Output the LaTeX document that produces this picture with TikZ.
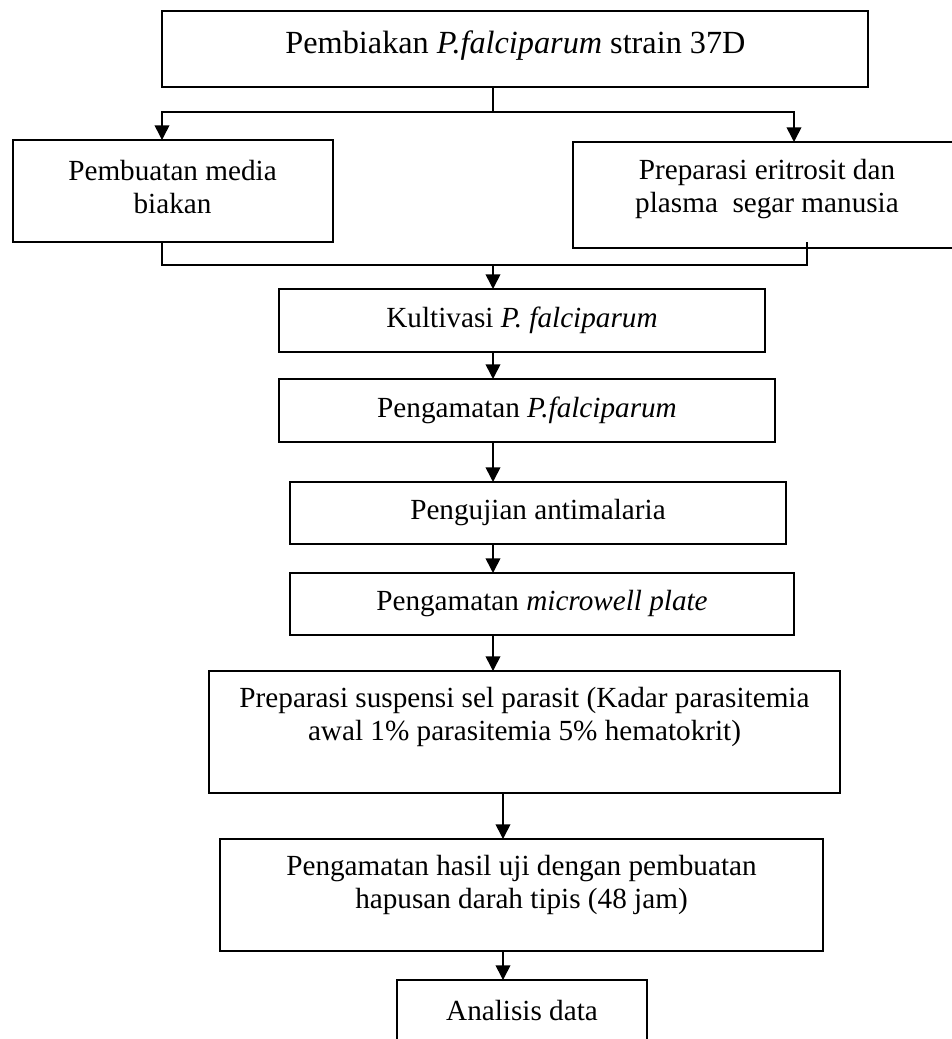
\documentclass[tikz,border=0pt]{standalone}
\usepackage{fontspec}
\setmainfont{Liberation Serif}
\usetikzlibrary{arrows.meta}
\tikzset{
  box/.style={draw, line width=1.6pt, inner sep=0pt, outer sep=0pt},
  txt/.style={align=center, inner sep=0pt, font=\fontsize{21.9}{24.75}\selectfont},
  bigtxt/.style={align=center, inner sep=0pt, font=\fontsize{24.2}{27}\selectfont},
  conn/.style={line width=1.2pt},
  arr/.style={conn, -{Triangle[width=11pt,length=11pt]}},
}
\newcommand\mkbox[6][]{\node[box,#1, minimum width={(#5-#3)*0.75pt}, minimum height={(#6-#4)*0.75pt}] (#2) at ({(#3+#5)/2},{(#4+#6)/2}) {};}
\begin{document}
\begin{tikzpicture}[x=0.75pt,y=-0.75pt]
\useasboundingbox (0,0) rectangle (951,1039);
% boxes
\mkbox[line width=2.2pt]{top}{162}{11}{868}{87}
\mkbox{left}{13}{140}{333}{242}
\mkbox{right}{573}{142}{962}{248}
\mkbox{kult}{279}{289}{765}{352}
\mkbox{pengp}{279}{379}{775}{442}
\mkbox{uji}{290}{482}{786}{544}
\mkbox{micro}{290}{573}{794}{635}
\mkbox{prep}{209}{671}{840}{793}
\mkbox{hasil}{220}{839}{823}{951}
\mkbox{anal}{397}{980}{647}{1060}
% texts
\node[bigtxt] (tTop) at (515.5,46) {Pembiakan \textit{P.falciparum} strain 37D};
\node[txt] (tLeft) at (172.5,187) {Pembuatan media\\biakan};
\node[txt] (tRight) at (767,189) {Preparasi eritrosit dan\\plasma\ \ segar manusia};
\node[txt] (tKult) at (522,320) {Kultivasi \textit{P. falciparum}};
\node[txt] (tPengp) at (527,410) {Pengamatan \textit{P.falciparum}};
\node[txt] (tUji) at (538,513) {Pengujian antimalaria};
\node[txt] (tMicro) at (542,604) {Pengamatan \textit{microwell plate}};
\node[txt] (tPrep) at (524.5,716.5) {Preparasi suspensi sel parasit (Kadar parasitemia\\awal 1\% parasitemia 5\% hematokrit)};
\node[txt] (tHasil) at (521.5,884.5) {Pengamatan hasil uji dengan pembuatan\\hapusan darah tipis (48 jam)};
\node[txt] (tAnal) at (522,1010) {Analisis data};
% junction coordinates
\coordinate (jTop) at (493,112);
\coordinate (jL) at (162,112);
\coordinate (jR) at (794,112);
\coordinate (jB) at (493,265);
\coordinate (jBL) at (162,265);
\coordinate (jBR) at (807,265);
\coordinate (rs) at (807,242);
\coordinate (jC) at (503,0);
% connectors
\draw[conn] (top.south -| jTop) -- (jTop);
\draw[arr] (jTop) -| (jL |- left.north);
\draw[arr] (jTop) -| (jR |- right.north);
\draw[conn] (jBL |- left.south) -- (jBL) -- (jBR) -- (rs);
\draw[arr] (jB) -- (jB |- kult.north);
\draw[arr] (kult.south -| jB) -- (pengp.north -| jB);
\draw[arr] (pengp.south -| jB) -- (uji.north -| jB);
\draw[arr] (uji.south -| jB) -- (micro.north -| jB);
\draw[arr] (micro.south -| jB) -- (prep.north -| jB);
\draw[arr] (prep.south -| jC) -- (hasil.north -| jC);
\draw[arr] (hasil.south -| jC) -- (anal.north -| jC);
\end{tikzpicture}
\end{document}
